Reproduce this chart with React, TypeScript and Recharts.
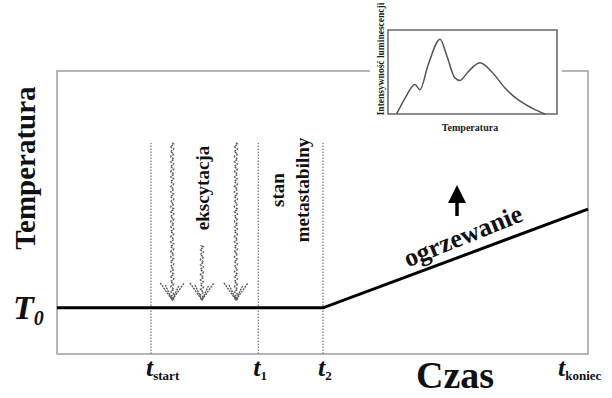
import React from 'react';
import {
  ComposedChart,
  LineChart,
  Line,
  XAxis,
  YAxis,
  ReferenceLine,
  ReferenceArea,
  Customized,
} from 'recharts';

// ---------- data ----------
const timeTicks = [17.7, 37.9, 50.1, 95.3];
const timeTickSubs = ['start', '1', '2', 'koniec'];
const tempTimes = [0, 50.1, 100];
const tempValues = [16.3, 16.3, 51.2];
const t0Value = 16.3;
const markerTimes = [17.7, 37.9, 50.1];
const markerTop = 74.6;
const excitationTimes = [21.7, 27.3, 33.7];
const excitationTops = [74.6, 38.2, 74.6];
const excitationTip = 19.1;

const insetTemps = [5.1, 10.1, 16, 18.9, 23.7, 30.8, 34.7, 39.6, 42.6, 47.3, 54.4, 61.5, 69.2, 76.9, 85.2, 92.9];
const insetIntensity = [0, 19, 35, 29, 58, 89, 70, 43, 40, 50, 61, 50, 31, 17, 7, 0];

const mainData = tempTimes.map((t, i) => ({ t, T: tempValues[i] }));
const insetData = insetTemps.map((x, i) => ({ x, y: insetIntensity[i] }));

// ---------- layout ----------
const W = 612;
const H = 398;
const M = { top: 71, right: 24, bottom: 14, left: 0 };
const Y_AXIS_W = 57;
const X_AXIS_H = 30;
const plotL = M.left + Y_AXIS_W;
const plotR = W - M.right;
const plotT = M.top;
const plotB = H - M.bottom - X_AXIS_H;
const px = (v: number) => plotL + (v / 100) * (plotR - plotL);
const py = (v: number) => plotB - (v / 100) * (plotB - plotT);

const SERIF = '"Liberation Serif", "Times New Roman", serif';

const TimeTick = (props: any) => {
  const { x, y, payload } = props;
  const idx = timeTicks.indexOf(payload.value);
  const sub = timeTickSubs[idx] ?? '';
  return (
    <text x={x - 5} y={y + 22} fontFamily={SERIF} fontWeight="bold" fill="#111">
      <tspan fontStyle="italic" fontSize={26}>t</tspan>
      <tspan fontSize={13} dy={4}>{sub}</tspan>
    </text>
  );
};

const TempTick = (props: any) => {
  const { y } = props;
  return (
    <text x={13} y={y + 11} fontFamily={SERIF} fontWeight="bold" fontStyle="italic" fill="#111">
      <tspan fontSize={34}>T</tspan>
      <tspan fontSize={20} dy={6}>0</tspan>
    </text>
  );
};

function wavy(x: number, y0: number, y1: number) {
  let d = `M ${x} ${y0}`;
  for (let y = y0; y <= y1; y += 1) {
    d += ` L ${(x + 1.6 * Math.sin(((y - y0) / 5) * 2 * Math.PI)).toFixed(2)} ${y}`;
  }
  return d;
}

const Overlay = () => {
  const tipY = py(excitationTip);
  return (
    <g>
      {excitationTimes.map((t, i) => {
        const x = px(t);
        const top = py(excitationTops[i]);
        return (
          <g key={i} stroke="#5e5e5e" fill="none" strokeWidth={1.4}>
            <path d={wavy(x, top, tipY)} strokeDasharray="2 1" />
            <path d={`M ${x - 12} ${tipY - 17} L ${x} ${tipY} L ${x + 12} ${tipY - 17}`} strokeDasharray="2 1" />
            <path d={`M ${x - 7} ${tipY - 15} L ${x} ${tipY} L ${x + 7} ${tipY - 15}`} strokeDasharray="2 1" />
          </g>
        );
      })}
      <text
        transform={`translate(202, 188) rotate(-90)`}
        textAnchor="middle"
        dominantBaseline="central"
        fontFamily={SERIF}
        fontWeight="bold"
        fontSize={19}
        fill="#111"
      >
        ekscytacja
      </text>
      <text
        transform={`translate(277, 190) rotate(-90)`}
        textAnchor="middle"
        dominantBaseline="central"
        fontFamily={SERIF}
        fontWeight="bold"
        fontSize={19}
        fill="#111"
      >
        stan
      </text>
      <text
        transform={`translate(302, 190) rotate(-90)`}
        textAnchor="middle"
        dominantBaseline="central"
        fontFamily={SERIF}
        fontWeight="bold"
        fontSize={19}
        fill="#111"
      >
        metastabilny
      </text>
      <text
        transform={`translate(463, 236) rotate(-22)`}
        textAnchor="middle"
        dominantBaseline="central"
        fontFamily={SERIF}
        fontWeight="bold"
        fontSize={26}
        fill="#111"
      >
        ogrzewanie
      </text>
      <line x1={457} y1={216} x2={457} y2={200} stroke="#000" strokeWidth={3.5} />
      <path d="M 448 203 L 457 185 L 466 203 Z" fill="#000" />
      <text
        transform={`translate(25, 168) rotate(-90)`}
        textAnchor="middle"
        dominantBaseline="central"
        fontFamily={SERIF}
        fontWeight="bold"
        fontSize={29}
        fill="#111"
      >
        Temperatura
      </text>
      <text
        x={455}
        y={388}
        textAnchor="middle"
        fontFamily={SERIF}
        fontWeight="bold"
        fontSize={38}
        fill="#111"
      >
        Czas
      </text>
    </g>
  );
};

const InsetOverlay = () => (
  <g>
    <text
      transform={`translate(11, 59) rotate(-90)`}
      textAnchor="middle"
      dominantBaseline="central"
      fontFamily={SERIF}
      fontWeight="bold"
      fontSize={9.5}
      fill="#222"
    >
      Intensywność luminescencji
    </text>
    <text x={100} y={131} textAnchor="middle" fontFamily={SERIF} fontWeight="bold" fontSize={10} fill="#222">
      Temperatura
    </text>
  </g>
);

export default function App() {
  return (
    <div style={{ position: 'absolute', left: 0, top: 0, width: W, height: H, background: '#fff' }}>
      <ComposedChart width={W} height={H} data={mainData} margin={M}>
        <XAxis
          type="number"
          dataKey="t"
          domain={[0, 100]}
          ticks={timeTicks}
          height={X_AXIS_H}
          axisLine={false}
          tickLine={false}
          tickSize={0}
          tickMargin={0}
          tick={<TimeTick />}
          interval={0}
        />
        <YAxis
          type="number"
          domain={[0, 100]}
          ticks={[t0Value]}
          width={Y_AXIS_W}
          axisLine={false}
          tickLine={false}
          tickSize={0}
          tickMargin={0}
          tick={<TempTick />}
        />
        <ReferenceArea x1={0} x2={100} y1={0} y2={100} fill="none" stroke="#a39d9d" strokeWidth={1.5} />
        {markerTimes.map((t) => (
          <ReferenceLine
            key={t}
            segment={[{ x: t, y: 0 }, { x: t, y: markerTop }]}
            stroke="#555"
            strokeWidth={1}
            strokeDasharray="1.5 1.5"
          />
        ))}
        <Line
          type="linear"
          dataKey="T"
          stroke="#000"
          strokeWidth={3}
          dot={false}
          isAnimationActive={false}
        />
        <Customized component={<Overlay />} />
      </ComposedChart>
      <div style={{ position: 'absolute', left: 370, top: 0, width: 192, height: 135, background: '#fff' }}>
        <LineChart width={192} height={135} data={insetData} margin={{ top: 30, right: 5, bottom: 0, left: 0 }}>
          <XAxis type="number" dataKey="x" domain={[0, 100]} height={21} tick={false} axisLine={false} tickLine={false} />
          <YAxis type="number" domain={[0, 100]} width={18} tick={false} axisLine={false} tickLine={false} />
          <ReferenceArea x1={0} x2={100} y1={0} y2={100} fill="none" stroke="#6b6464" strokeWidth={1.5} />
          <Line
            type="monotone"
            dataKey="y"
            stroke="#5a5252"
            strokeWidth={1.5}
            dot={false}
            isAnimationActive={false}
          />
          <Customized component={<InsetOverlay />} />
        </LineChart>
      </div>
    </div>
  );
}
